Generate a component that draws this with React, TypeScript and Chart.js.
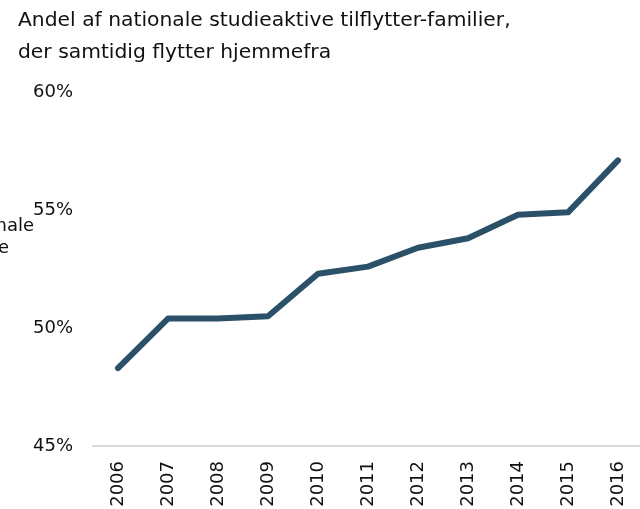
import React, { useEffect, useRef } from "react";
import { Chart, registerables } from "chart.js";

Chart.register(...registerables);

const years = ["2006", "2007", "2008", "2009", "2010", "2011", "2012", "2013", "2014", "2015", "2016"];
const shares = [48.3, 50.4, 50.4, 50.5, 52.3, 52.6, 53.4, 53.8, 54.8, 54.9, 57.1];
const subtitleLines = ["Andel af nationale studieaktive tilflytter-familier,", "der samtidig flytter hjemmefra"];
const sideLines = ["Internationale", "studieaktive"];
const yMin = 45;
const yMax = 60;
const yStep = 5;

const FONT = "'DejaVu Sans', sans-serif";
const CANVAS_W = 680;
const CANVAS_H = 540;

export default function App() {
  const ref = useRef<HTMLCanvasElement | null>(null);

  useEffect(() => {
    if (!ref.current) return;
    const chart = new Chart(ref.current, {
      type: "line",
      data: {
        labels: years,
        datasets: [
          {
            data: shares,
            borderColor: "#2b5168",
            borderWidth: 6,
            borderCapStyle: "round",
            borderJoinStyle: "round",
            pointRadius: 0,
            tension: 0,
            fill: false,
          },
        ],
      },
      options: {
        animation: false,
        responsive: false,
        maintainAspectRatio: false,
        layout: { padding: { left: 18, top: 0, right: CANVAS_W - 643, bottom: 0 } },
        plugins: {
          legend: { display: false },
          tooltip: { enabled: false },
          title: {
            display: true,
            text: subtitleLines,
            align: "start",
            color: "#111",
            font: { family: FONT, size: 20.3, weight: "normal", lineHeight: 32 / 20.3 },
            padding: { top: 5, bottom: 23 },
          },
        },
        scales: {
          x: {
            offset: true,
            grid: { display: false, drawTicks: false },
            border: { display: true, color: "#d9d9d9", width: 2 },
            ticks: {
              autoSkip: false,
              minRotation: 90,
              maxRotation: 90,
              padding: 15,
              color: "#111",
              font: { family: FONT, size: 18 },
            },
            afterFit: (s: any) => {
              s.height = CANVAS_H - 446;
            },
          },
          y: {
            min: yMin,
            max: yMax,
            grid: { display: false, drawTicks: false },
            border: { display: false },
            ticks: {
              stepSize: yStep,
              padding: 20,
              color: "#111",
              font: { family: FONT, size: 18 },
              callback: (v: any) => v + "%",
            },
            afterFit: (s: any) => {
              s.width = 75;
            },
          },
        },
      },
    });
    return () => chart.destroy();
  }, []);

  return (
    <div
      style={{
        position: "absolute",
        left: 0,
        top: 0,
        width: 640,
        height: 509,
        overflow: "hidden",
        background: "#fff",
      }}
    >
      <canvas ref={ref} width={CANVAS_W} height={CANVAS_H} style={{ display: "block", width: CANVAS_W, height: CANVAS_H }} />
      {sideLines.map((t, i) => (
        <div
          key={t}
          style={{
            position: "absolute",
            right: i === 0 ? 640 - 34 : 640 - 9,
            top: 214 + i * 22,
            fontFamily: FONT,
            fontSize: 18,
            color: "#111",
            whiteSpace: "nowrap",
            lineHeight: "22px",
          }}
        >
          {t}
        </div>
      ))}
    </div>
  );
}
